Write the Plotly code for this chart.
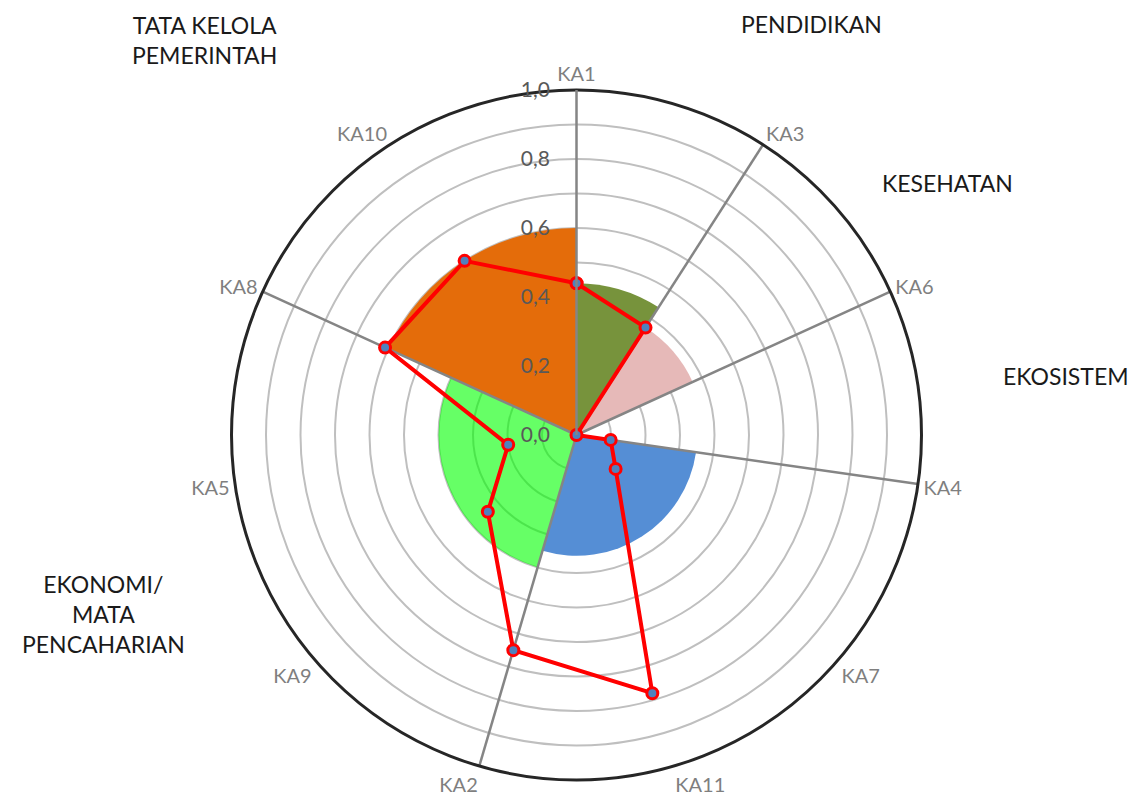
import plotly.graph_objects as go

# Indicator order around the wheel (clockwise from the top)
categories = ["KA1", "KA3", "KA6", "KA4", "KA7", "KA11", "KA2", "KA9", "KA5", "KA8", "KA10"]
scores = [0.44, 0.37, 0.00, 0.10, 0.15, 0.78, 0.65, 0.34, 0.20, 0.61, 0.60]

# Sector groups: first indicator of each group, number of indicators, group score
group_first = ["KA1", "KA3", "KA6", "KA4", "KA2", "KA8"]
group_span = [1, 1, 1, 3, 3, 2]
group_scores = [0.44, 0.37, 0.00, 0.35, 0.40, 0.60]
group_colors = ["#77933C", "#E6B9B8", "#FFFFFF", "#558ED5",
                "rgba(0,255,0,0.6)", "#E46C0A"]

# Group titles placed around the wheel (paper pixels: x, y from top)
group_titles = ["TATA KELOLA<br>PEMERINTAH", "PENDIDIKAN", "KESEHATAN",
                "EKOSISTEM", "EKONOMI/<br>MATA<br>PENCAHARIAN"]
title_px = [(204, 40), (811, 24), (947, 183), (1066, 376), (103, 614)]

radial_ticks = [i / 10 for i in range(11)]
radial_text = [f"{v:.1f}".replace(".", ",") if i % 2 == 0 else ""
               for i, v in enumerate(radial_ticks)]

W, H = 1138, 797
step = 360 / len(categories)
angle = {c: i * step for i, c in enumerate(categories)}

fig = go.Figure()

# Group sectors
fig.add_trace(go.Barpolar(
    r=group_scores,
    theta=[angle[c] + n * step / 2 for c, n in zip(group_first, group_span)],
    width=[n * step for n in group_span],
    marker=dict(color=group_colors, line=dict(width=0)),
    hoverinfo="skip",
))

# Spokes at group boundaries
sp_r, sp_t = [], []
for c in group_first[1:]:
    sp_r += [0, 1, None]
    sp_t += [angle[c], angle[c], None]
fig.add_trace(go.Scatterpolar(
    r=sp_r, theta=sp_t, mode="lines",
    line=dict(color="#858585", width=2.5), hoverinfo="skip",
))

# Indicator scores
fig.add_trace(go.Scatterpolar(
    r=scores + scores[:1],
    theta=[angle[c] for c in categories] + [angle[categories[0]]],
    mode="lines+markers",
    line=dict(color="#FF0000", width=4),
    marker=dict(size=11, color="#4F81BD", line=dict(color="#FF0000", width=3)),
))

cx, cy, rad = 576.5, 435, 345
fig.update_layout(
    width=W, height=H,
    margin=dict(l=0, r=0, t=0, b=0),
    paper_bgcolor="white",
    showlegend=False,
    font=dict(family="Lato, 'Open Sans', sans-serif"),
    polar=dict(
        domain=dict(x=[(cx - rad) / W, (cx + rad) / W],
                    y=[(H - cy - rad) / H, (H - cy + rad) / H]),
        bgcolor="white",
        angularaxis=dict(
            rotation=90, direction="clockwise",
            tickmode="array",
            tickvals=[angle[c] for c in categories],
            ticktext=categories,
            showgrid=False,
            showline=True, linecolor="#262626", linewidth=3,
            ticks="",
            tickfont=dict(size=20, color="#7F7F7F"),
        ),
        radialaxis=dict(
            range=[0, 1], angle=90, side="counterclockwise",
            tickmode="array", tickvals=radial_ticks, ticktext=radial_text,
            showgrid=True, gridcolor="#BFBFBF", gridwidth=2,
            showline=True, linecolor="#858585", linewidth=2.5,
            ticks="outside", ticklen=18, tickcolor="rgba(0,0,0,0)",
            tickfont=dict(size=21, color="#595959"),
            tickangle=90,
        ),
    ),
)

for text, (px, py) in zip(group_titles, title_px):
    fig.add_annotation(
        text=text, x=px / W, y=1 - py / H, xref="paper", yref="paper",
        xanchor="center", yanchor="middle", showarrow=False,
        font=dict(size=23, color="#1A1A1A"), align="center",
    )

fig.write_html("out.html")
